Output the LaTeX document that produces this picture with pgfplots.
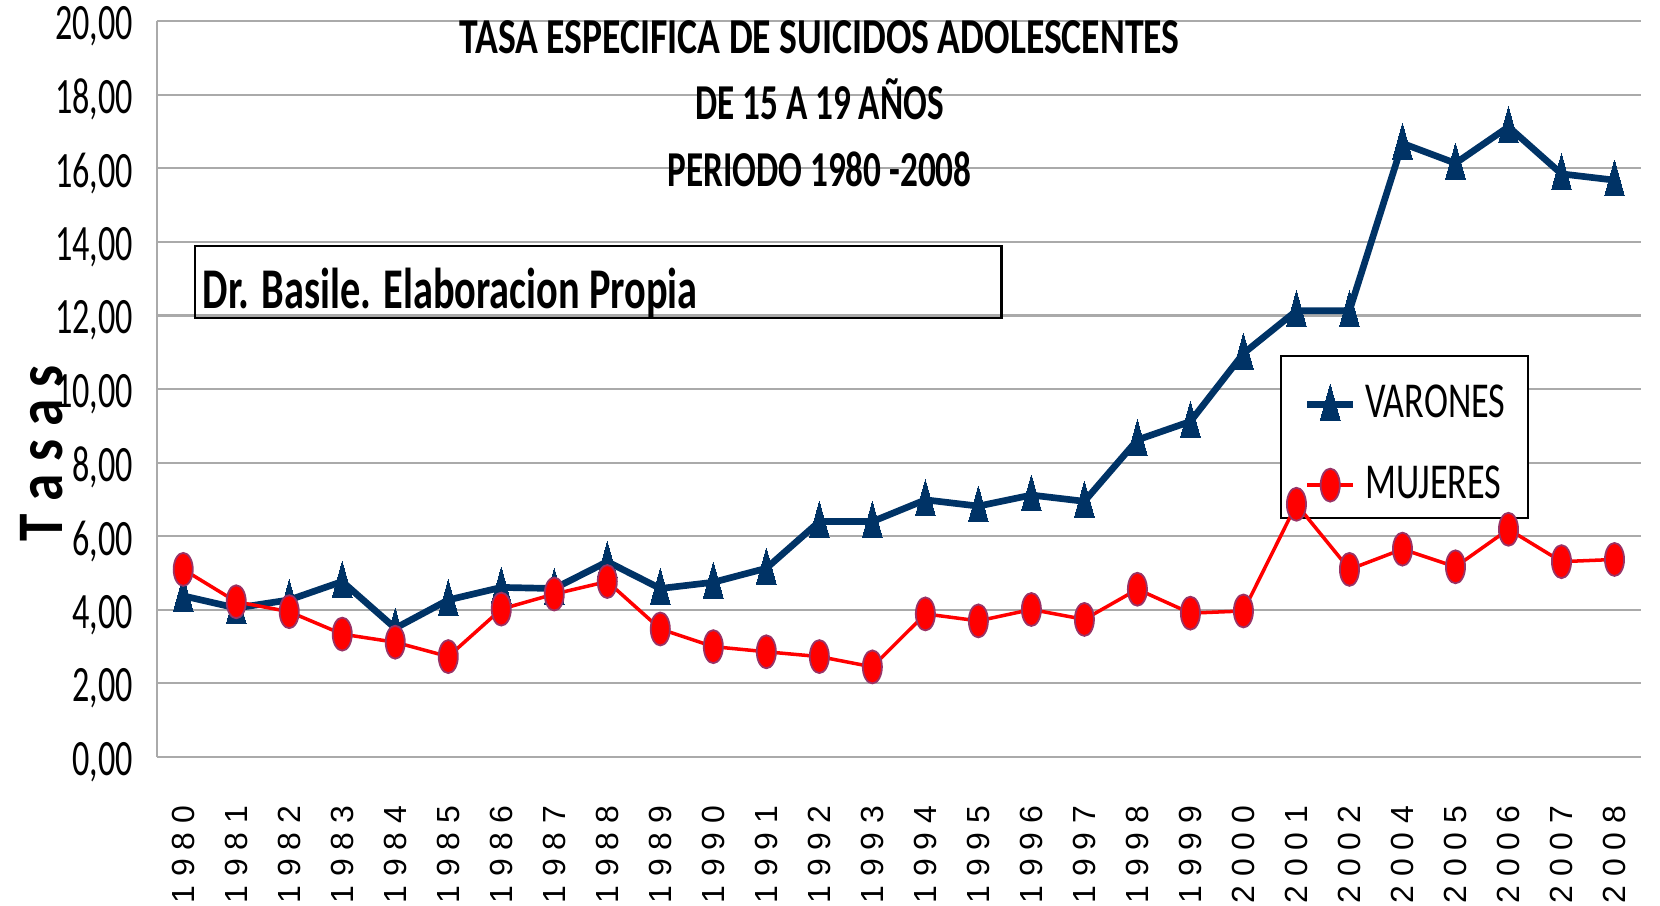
\documentclass[border=0pt]{standalone}
\usepackage{pgfplots}
\pgfplotsset{compat=1.18}
\usepackage{fontspec}
\setmainfont{Carlito}
\newfontfamily\condA[FakeStretch=0.67]{Carlito}
\newfontfamily\condB[FakeStretch=0.75]{Carlito}
\newfontfamily\condBB[FakeStretch=0.70]{Carlito}
\newfontfamily\condC[FakeStretch=0.70]{Carlito}
\newfontfamily\condD[FakeStretch=0.85]{Carlito}
\newfontfamily\condL[FakeStretch=0.72]{Carlito}
\newfontfamily\xfont{Liberation Sans}
\definecolor{navy}{RGB}{0,51,102}
\definecolor{edgepurple}{RGB}{153,51,102}
\definecolor{gridgray}{RGB}{170,170,170}
\pgfplotsset{
  mygeom/.style={
    at={(15.67mm,14.8mm)}, anchor=south west,
    width=148.43mm, height=73.58mm, scale only axis,
    xmin=-0.5, xmax=27.5, ymin=0, ymax=20,
  },
  varstyle/.style={navy, line width=1.9pt, mark=triangle*, mark size=6.8pt,
    mark options={xscale=0.48, yshift=-1.1pt, fill=navy, draw=navy, line width=0pt}},
  mujstyle/.style={red, line width=1pt, mark=*, mark size=4.7pt,
    mark options={xscale=0.58, fill=red, draw=edgepurple, line width=0.5pt}},
}

\begin{document}
\begin{tikzpicture}
% axis 1: grid, axis lines, tick labels
\begin{axis}[
  mygeom,
  xtick={0,...,27},
  xticklabels={1 9 8 0,1 9 8 1,1 9 8 2,1 9 8 3,1 9 8 4,1 9 8 5,1 9 8 6,1 9 8 7,1 9 8 8,1 9 8 9,1 9 9 0,1 9 9 1,1 9 9 2,1 9 9 3,1 9 9 4,1 9 9 5,1 9 9 6,1 9 9 7,1 9 9 8,1 9 9 9,2 0 0 0,2 0 0 1,2 0 0 2,2 0 0 4,2 0 0 5,2 0 0 6,2 0 0 7,2 0 0 8},
  ytick={0,2,...,20},
  ymajorgrids,
  major grid style={gridgray, line width=0.6pt},
  axis x line*=bottom, axis y line*=left,
  axis line style={gridgray, line width=0.6pt, -},
  major tick length=0pt,
  /pgf/number format/.cd, fixed, fixed zerofill, precision=2, use comma, assume math mode=true,
  /pgfplots/.cd,
  yticklabel style={font=\condA\fontsize{14.5}{14.5}\selectfont, anchor=east, inner sep=0pt, yshift=-0.5mm},
  yticklabel shift=2.3mm,
  xticklabel style={font=\xfont\fontsize{9.1}{9.1}\selectfont, rotate=90, anchor=east, inner sep=0pt},
  xticklabel shift=4.8mm,
]
\end{axis}
% legend box (behind the data)
\draw[black, line width=0.6pt, fill=white] (128.1mm,38.73mm) rectangle (152.77mm,54.93mm);
% axis 2: the data and legend entries
\begin{axis}[
  mygeom, hide axis,
  legend style={at={(0.7724,0.5076)}, anchor=north west, draw=none, fill=none,
    font=\condL\fontsize{14.3}{14.3}\selectfont, row sep=4.3mm, inner xsep=0pt, inner ysep=0pt,
    nodes={inner xsep=0.85mm, inner ysep=0pt}},
  legend cell align=left,
  legend image code/.code={\draw[mark repeat=2,mark phase=2] plot coordinates {(0mm,0mm) (2.3mm,0mm) (4.6mm,0mm)};},
]
\addplot[varstyle] coordinates {
(0,4.38) (1,4.05) (2,4.27) (3,4.77) (4,3.50) (5,4.27) (6,4.61) (7,4.58) (8,5.31) (9,4.58)
(10,4.75) (11,5.13) (12,6.40) (13,6.40) (14,6.99) (15,6.82) (16,7.12) (17,6.95) (18,8.62) (19,9.12)
(20,10.97) (21,12.13) (22,12.13) (23,16.68) (24,16.14) (25,17.13) (26,15.85) (27,15.68)};
\addlegendentry{VARONES}
\addplot[mujstyle] coordinates {
(0,5.10) (1,4.22) (2,3.95) (3,3.34) (4,3.12) (5,2.73) (6,4.02) (7,4.43) (8,4.77) (9,3.48)
(10,3.00) (11,2.86) (12,2.73) (13,2.45) (14,3.89) (15,3.70) (16,4.01) (17,3.74) (18,4.56) (19,3.91)
(20,3.97) (21,6.87) (22,5.10) (23,5.65) (24,5.17) (25,6.19) (26,5.31) (27,5.37)};
\addlegendentry{MUJERES}
\end{axis}
% title
\node[anchor=base, font=\condB\bfseries\fontsize{14.3}{14.3}\selectfont] at (81.95mm,85.2mm) {TASA ESPECIFICA DE SUICIDOS ADOLESCENTES};
\node[anchor=base, font=\condBB\bfseries\fontsize{14.3}{14.3}\selectfont] at (81.95mm,78.6mm) {DE 15 A 19 AÑOS};
\node[anchor=base, font=\condBB\bfseries\fontsize{14.3}{14.3}\selectfont] at (81.95mm,71.85mm) {PERIODO 1980 -2008};
% note box
\draw[black, line width=0.6pt] (19.5mm,58.74mm) rectangle (100.15mm,65.94mm);
\node[anchor=base west, inner sep=0pt, font=\condC\bfseries\fontsize{16.4}{16.4}\selectfont] at (20.2mm,59.7mm) {Dr. Basile. Elaboracion Propia};
% y label
\node[rotate=90, anchor=center, inner sep=0pt, font=\condD\bfseries\fontsize{18.5}{18.5}\selectfont] at (4.2mm,45.2mm) {T a s a s};
\pgfresetboundingbox
\path (0,0) rectangle (166mm,90.5mm);
\end{tikzpicture}
\end{document}
